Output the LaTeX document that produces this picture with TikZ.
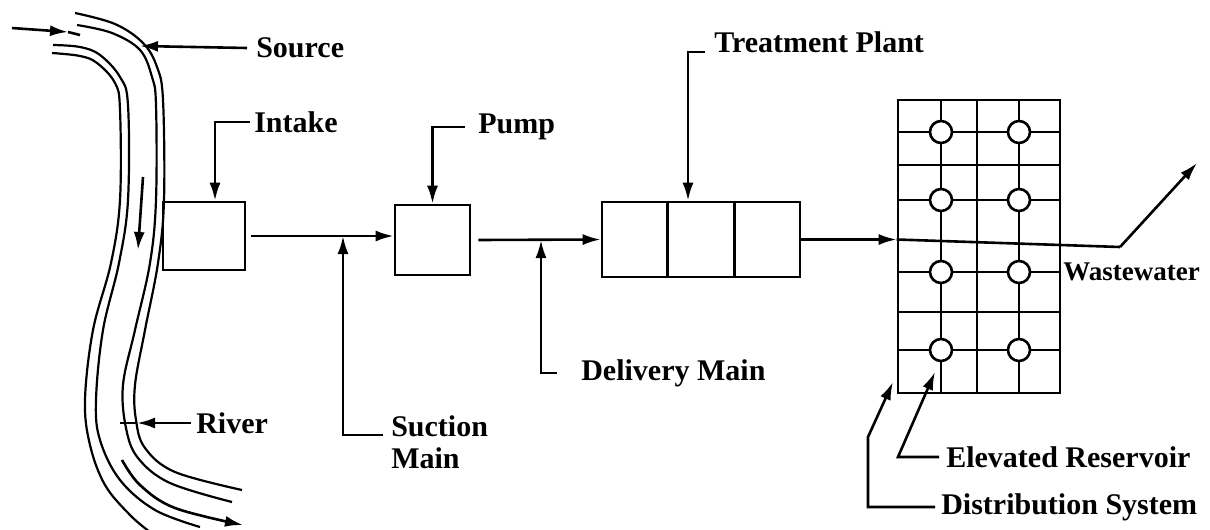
\documentclass[tikz,border=0pt]{standalone}
\usepackage{fontspec}
\setmainfont{Liberation Serif}
\usetikzlibrary{arrows.meta,calc}
\begin{document}
\begin{tikzpicture}[x=1pt,y=-1pt,
  line width=2.6pt,
  arr/.style={-{Latex[length=18pt,width=11pt]}},
  blk/.style={draw,inner sep=0pt},
  lbl/.style={anchor=west,font=\fontsize{30}{32}\selectfont\bfseries,inner sep=0pt},
  bank/.style={line width=2.2pt},
  res/.style={circle,draw,fill=white,minimum size=22pt,inner sep=0pt}
]
\useasboundingbox (0,0) rectangle (1210,530);

% ---------- river ----------
\draw[bank] plot[smooth,tension=0.6] coordinates {(75,13) (115,24) (143,43) (157,67) (163,100) (164,200) (158,263) (145,330) (135,385) (136,420) (145,448) (175,472) (242,490)};
\draw[bank] plot[smooth,tension=0.6] coordinates {(77,25) (112,33) (140,50) (152,77) (156,105) (156,200) (150,263) (135,330) (123,385) (126,428) (138,458) (170,483) (232,502)};
\draw[bank] plot[smooth,tension=0.6] coordinates {(53,45) (80,47) (100,55) (120,77) (128,105) (128,200) (119,263) (103,330) (96,400) (100,440) (120,480) (155,510) (200,527)};
\draw[bank] plot[smooth,tension=0.6] coordinates {(52,53) (80,56) (97,63) (115,83) (120,110) (120,200) (111,263) (93,330) (85,400) (90,445) (105,485) (130,515) (150,532)};

% flow arrows
\coordinate (f1) at (12,28); \coordinate (f2) at (68,32); \coordinate (f3) at (80,35);
\draw[arr] (f1) -- (f2); \draw (f2) -- (f3);
\coordinate (f4) at (143,177); \coordinate (f5) at (138,250);
\draw[arr] (f4) -- (f5);
\draw[arr] plot[smooth,tension=0.6] coordinates {(122,460) (140,485) (175,508) (243,525)};

% Source
\node[lbl] (source) at (255,48) {Source};
\coordinate (srctip) at (140,46);
\draw[arr] ([xshift=-8pt]source.west) -- (srctip);

% River label
\node[lbl] (river) at (195,423) {River};
\coordinate (rvtip) at (137,423); \coordinate (rvend) at (120,423);
\draw[arr] ([xshift=-4pt]river.west) -- (rvtip); \draw (rvtip) -- (rvend);

% ---------- boxes ----------
\node[blk,minimum width=82pt,minimum height=68pt] (intake) at (204,236) {};
\node[blk,minimum width=75pt,minimum height=70pt] (pump) at (432.5,240) {};
\node[blk,minimum width=198pt,minimum height=75pt] (tp) at (701,239.5) {};
\draw ($(tp.north west)!1/3!(tp.north east)$) -- ($(tp.south west)!1/3!(tp.south east)$);
\draw ($(tp.north west)!2/3!(tp.north east)$) -- ($(tp.south west)!2/3!(tp.south east)$);

% Intake label
\node[lbl] (intakel) at (253,122) {Intake};
\draw[arr] ([xshift=-3pt]intakel.west) -| ([xshift=11pt]intake.north);

% Pump label
\node[lbl] (pumpl) at (477,127) {Pump};
\draw[arr] ([xshift=-12pt]pumpl.west) -| (pump.north);

% Treatment plant label
\node[lbl] (tpl) at (713,42) {Treatment Plant};
\draw[arr] ([shift={(-8pt,-10pt)}]tpl.west) -| ([xshift=-13pt]tp.north);

% mains
\coordinate (sm) at (343,236);
\coordinate (dm) at (541,240);
\draw[arr] ([xshift=5pt]intake.east) -- (pump.west |- intake.east);
\draw[arr] ([xshift=7pt]pump.east) -- (tp.west);

\node[lbl,align=left] (suction) at (390,442) {Suction\\Main};
\draw[arr] ([shift={(-7pt,7pt)}]suction.west) -| (sm);

\node[lbl] (delivery) at (580,373) {Delivery Main};
\draw[arr] ([xshift=-23pt]delivery.west) -| (dm);

% ---------- distribution grid ----------
\node[blk,minimum width=162pt,minimum height=293pt] (grid) at (979,246.5) {};
\foreach \gx in {941,977,1019} \draw (\gx,100) -- (\gx,393);
\foreach \gy in {132,165,200,272,312,350} \draw (898,\gy) -- (1060,\gy);
\foreach \gx/\cx in {941/a,1019/b} {
  \foreach \gy/\cy in {132/1,200/2,272/3,350/4} {
    \node[res] (r\cx\cy) at (\gx,\gy) {};
  }
}
\draw[arr] (tp.east) -- (grid.west |- tp.east);

% Wastewater
\coordinate (ww1) at (1120,247);
\coordinate (ww2) at (1197,163);
\draw (grid.west |- tp.east) -- (ww1);
\draw[arr] (ww1) -- (ww2);
\node[lbl,font=\fontsize{27}{29}\selectfont\bfseries] (waste) at (1062,272) {Wastewater};

% Elevated reservoir
\node[lbl] (erl) at (945,457) {Elevated Reservoir};
\coordinate (erk) at (898,457);
\coordinate (ertip) at (935,372);
\draw[arr] ([xshift=-6pt]erl.west) -- (erk) -- (ertip);

% Distribution system
\node[lbl] (dsl) at (940,507) {Distribution System};
\coordinate (dsk1) at (868,507);
\coordinate (dsk2) at (868,437);
\coordinate (dstip) at (893,382);
\draw[arr] ([xshift=-5pt]dsl.west) -- (dsk1) -- (dsk2) -- (dstip);
\end{tikzpicture}
\end{document}
